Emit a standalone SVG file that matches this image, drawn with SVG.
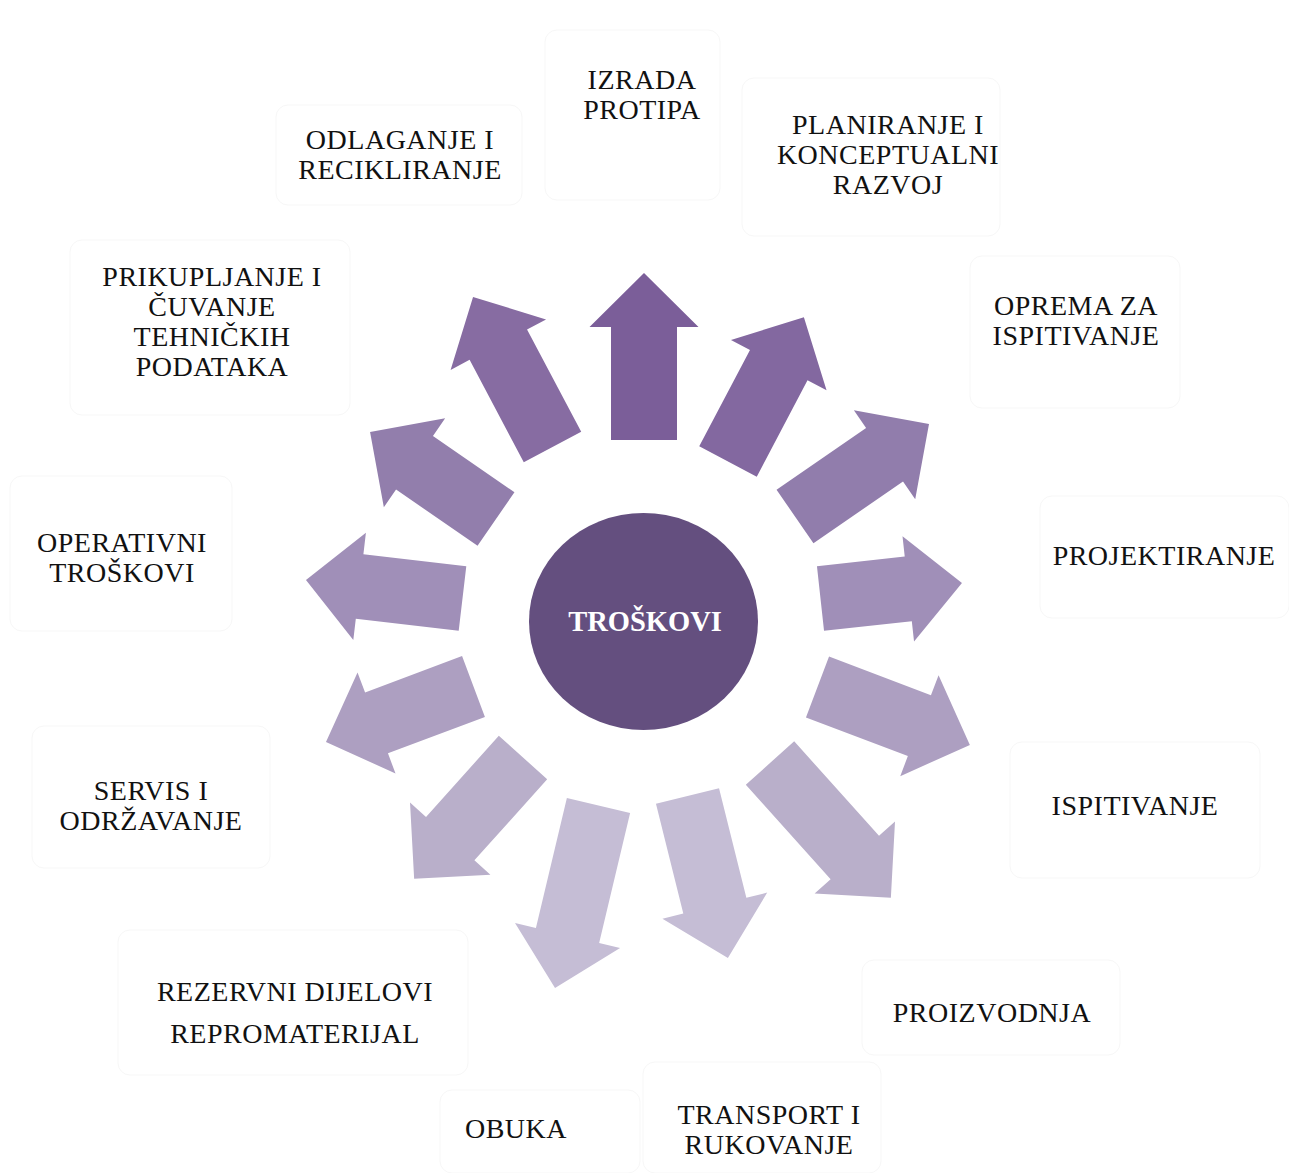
<svg xmlns="http://www.w3.org/2000/svg" width="1289" height="1173" viewBox="0 0 1289 1173">
<style>
.lbl{font-family:"Liberation Serif","Times New Roman",serif;font-size:28px;letter-spacing:0.5px;fill:#111;text-anchor:middle}
.box{fill:none;stroke:#f7f7f7;stroke-width:1}
.ctr{font-family:"Liberation Serif","Times New Roman",serif;font-size:28.5px;font-weight:bold;fill:#fff;text-anchor:middle}
</style>
<rect width="1289" height="1173" fill="#fff"/>
<g id="connectors">
<polygon id="a1" fill="#7b5e99" transform="translate(644,440) rotate(0)" points="-33,0 33,0 33,-113 54.5,-113 0,-167 -54.5,-113 -33,-113"/>
<polygon id="a2" fill="#8368a0" transform="translate(728,461.5) rotate(27.75)" points="-32.5,0 32.5,0 32.5,-109 54,-109 0,-163 -54,-109 -32.5,-109"/>
<polygon id="a3" fill="#917dac" transform="translate(795,516.5) rotate(55.4)" points="-32.5,0 32.5,0 32.5,-108.8 54,-108.8 0,-162.8 -54,-108.8 -32.5,-108.8"/>
<polygon id="a4" fill="#a08fb8" transform="translate(820.5,598.5) rotate(83.75)" points="-32.5,0 32.5,0 32.5,-88.3 53,-88.3 0,-142.3 -53,-88.3 -32.5,-88.3"/>
<polygon id="a5" fill="#ad9fc1" transform="translate(817.5,687) rotate(110.8)" points="-32.5,0 32.5,0 32.5,-109 54,-109 0,-163 -54,-109 -32.5,-109"/>
<polygon id="a6" fill="#b9afca" transform="translate(770,763) rotate(138.1)" points="-32.5,0 32.5,0 32.5,-127 54,-127 0,-181 -54,-127 -32.5,-127"/>
<polygon id="a7" fill="#c5bdd5" transform="translate(687.5,796) rotate(166)" points="-32.5,0 32.5,0 32.5,-113 54,-113 0,-167 -54,-113 -32.5,-113"/>
<polygon id="a8" fill="#c5bdd5" transform="translate(598.5,805.5) rotate(193.4)" points="-32.5,0 32.5,0 32.5,-133.6 54,-133.6 0,-187.6 -54,-133.6 -32.5,-133.6"/>
<polygon id="a9" fill="#b9afca" transform="translate(523,757.5) rotate(221.9)" points="-32.5,0 32.5,0 32.5,-109 54,-109 0,-163 -54,-109 -32.5,-109"/>
<polygon id="a10" fill="#ad9fc1" transform="translate(473.5,686.5) rotate(249.4)" points="-32.5,0 32.5,0 32.5,-103.6 54,-103.6 0,-157.6 -54,-103.6 -32.5,-103.6"/>
<polygon id="a11" fill="#a08fb8" transform="translate(462.5,598.5) rotate(276.7)" points="-32.5,0 32.5,0 32.5,-103.6 54,-103.6 0,-157.6 -54,-103.6 -32.5,-103.6"/>
<polygon id="a12" fill="#927eac" transform="translate(496,519) rotate(304.6)" points="-32.5,0 32.5,0 32.5,-99 54,-99 0,-153 -54,-99 -32.5,-99"/>
<polygon id="a13" fill="#876ca2" transform="translate(552.5,447) rotate(332.1)" points="-32.5,0 32.5,0 32.5,-115.8 54,-115.8 0,-169.8 -54,-115.8 -32.5,-115.8"/>
</g>
<g id="center">
<ellipse cx="643.5" cy="621.5" rx="114.5" ry="108.5" fill="#644f7f"/>
<text class="ctr" x="645" y="631">TROŠKOVI</text>
</g>
<g id="n-izrada"><rect class="box" x="545" y="30" width="175" height="170" rx="12"/><text class="lbl" x="642" y="89">IZRADA</text><text class="lbl" x="642" y="119">PROTIPA</text></g>
<g id="n-planiranje"><rect class="box" x="742" y="78" width="258" height="158" rx="12"/><text class="lbl" x="888" y="134">PLANIRANJE I</text><text class="lbl" x="888" y="164">KONCEPTUALNI</text><text class="lbl" x="888" y="194">RAZVOJ</text></g>
<g id="n-oprema"><rect class="box" x="970" y="256" width="210" height="152" rx="12"/><text class="lbl" x="1076" y="315">OPREMA ZA</text><text class="lbl" x="1076" y="345">ISPITIVANJE</text></g>
<g id="n-projektiranje"><rect class="box" x="1040" y="496" width="249" height="122" rx="12"/><text class="lbl" x="1164" y="565">PROJEKTIRANJE</text></g>
<g id="n-ispitivanje"><rect class="box" x="1010" y="742" width="250" height="136" rx="12"/><text class="lbl" x="1135" y="815">ISPITIVANJE</text></g>
<g id="n-proizvodnja"><rect class="box" x="862" y="960" width="258" height="95" rx="12"/><text class="lbl" x="992" y="1022">PROIZVODNJA</text></g>
<g id="n-transport"><rect class="box" x="643" y="1062" width="238" height="111" rx="12"/><text class="lbl" x="769" y="1124">TRANSPORT I</text><text class="lbl" x="769" y="1154">RUKOVANJE</text></g>
<g id="n-obuka"><rect class="box" x="440" y="1090" width="200" height="83" rx="12"/><text class="lbl" x="516" y="1138">OBUKA</text></g>
<g id="n-rezervni"><rect class="box" x="118" y="930" width="350" height="145" rx="12"/><text class="lbl" x="295" y="1001">REZERVNI DIJELOVI</text><text class="lbl" x="295" y="1043">REPROMATERIJAL</text></g>
<g id="n-servis"><rect class="box" x="32" y="726" width="238" height="142" rx="12"/><text class="lbl" x="151" y="800">SERVIS I</text><text class="lbl" x="151" y="830">ODRŽAVANJE</text></g>
<g id="n-operativni"><rect class="box" x="10" y="476" width="222" height="155" rx="12"/><text class="lbl" x="122" y="552">OPERATIVNI</text><text class="lbl" x="122" y="582">TROŠKOVI</text></g>
<g id="n-prikupljanje"><rect class="box" x="70" y="240" width="280" height="175" rx="12"/><text class="lbl" x="212" y="286">PRIKUPLJANJE I</text><text class="lbl" x="212" y="316">ČUVANJE</text><text class="lbl" x="212" y="346">TEHNIČKIH</text><text class="lbl" x="212" y="376">PODATAKA</text></g>
<g id="n-odlaganje"><rect class="box" x="276" y="105" width="246" height="100" rx="12"/><text class="lbl" x="400" y="149">ODLAGANJE I</text><text class="lbl" x="400" y="179">RECIKLIRANJE</text></g>
</svg>
